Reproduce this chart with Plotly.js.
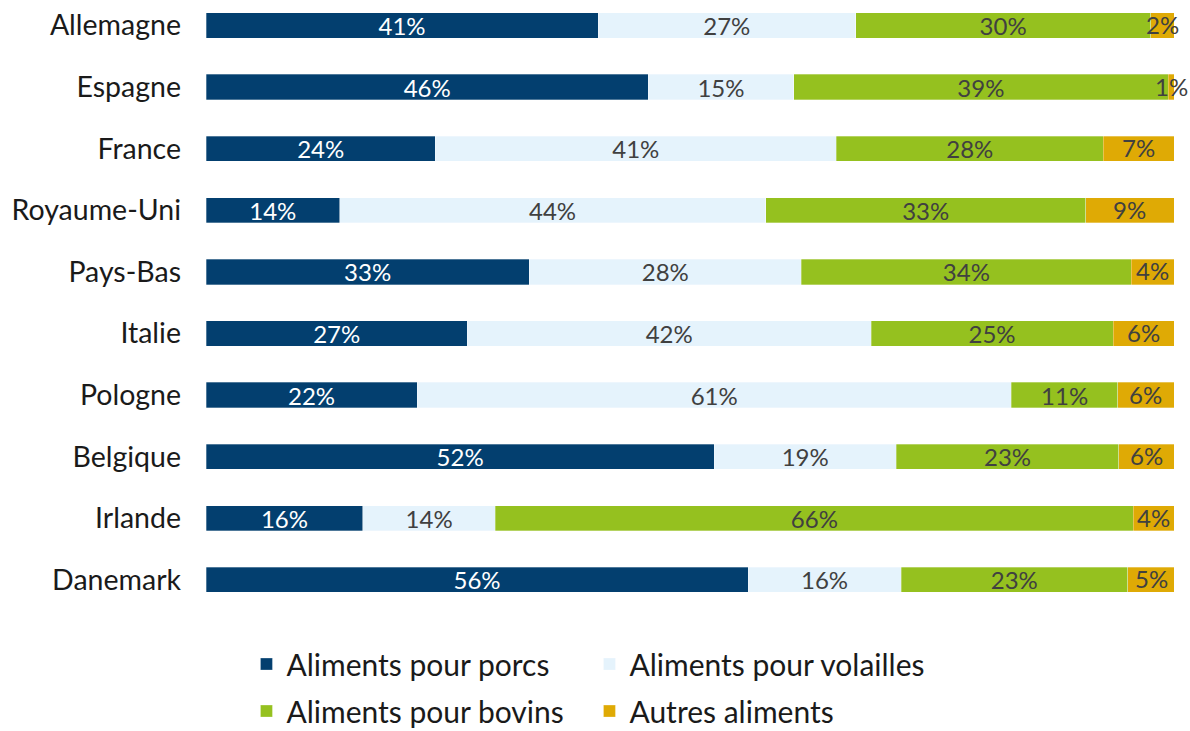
<!DOCTYPE html>
<html>
<head>
<meta charset="utf-8">
<script src="https://cdn.plot.ly/plotly-3.0.1.min.js"></script>
<style>
  html, body { margin: 0; padding: 0; background: white; }
  #chart { width: 1190px; height: 731px; }
</style>
</head>
<body>
<div id="chart"></div>
<script>
// Répartition de la production d'aliments composés par pays
const pays = ['Allemagne', 'Espagne', 'France', 'Royaume-Uni', 'Pays-Bas',
              'Italie', 'Pologne', 'Belgique', 'Irlande', 'Danemark'];

// shares (labels are the rounded published values)
const porcs     = [40.5, 45.7, 23.7, 13.8, 33.4, 27.0, 21.8, 52.5, 16.2, 56.0];
const volailles = [26.6, 15.0, 41.4, 44.0, 28.1, 41.7, 61.4, 18.8, 13.7, 15.8];
const bovins    = [30.5, 38.7, 27.6, 33.1, 34.1, 25.0, 11.0, 23.0, 65.9, 23.4];
const autres    = [ 2.5,  0.7,  7.3,  9.1,  4.4,  6.4,  5.8,  5.8,  4.2,  4.9];

const porcsLbl     = [41, 46, 24, 14, 33, 27, 22, 52, 16, 56];
const volaillesLbl = [27, 15, 41, 44, 28, 42, 61, 19, 14, 16];
const bovinsLbl    = [30, 39, 28, 33, 34, 25, 11, 23, 66, 23];
const autresLbl    = [ 2,  1,  7,  9,  4,  6,  6,  6,  4,  5];

const FONT = 'Lato, "Open Sans", sans-serif';
const LABEL_SIZE = 24;

function serie(name, values, labels, color, textColor, legendId) {
    return {
        type: 'bar',
        orientation: 'h',
        name: name,
        legend: legendId,
        y: pays,
        x: values,
        text: labels.map(v => v + '%'),
        textposition: 'inside',
        insidetextanchor: 'middle',
        textangle: 0,
        constraintext: 'none',
        textfont: { family: FONT, size: LABEL_SIZE, color: textColor },
        marker: { color: color, line: { color: 'rgba(255,255,255,0.6)', width: 0.5 } },
        width: 0.41,
        hoverinfo: 'skip'
    };
}

const autresBar = serie('Autres aliments', autres, autresLbl, '#dfaa05', '#404040', 'legend2');
autresBar.textposition = 'none';

const traces = [
    serie('Aliments pour porcs', porcs, porcsLbl, '#033f6f', '#ffffff', 'legend'),
    serie('Aliments pour volailles', volailles, volaillesLbl, '#e5f3fc', '#404040', 'legend'),
    serie('Aliments pour bovins', bovins, bovinsLbl, '#95c11f', '#404040', 'legend2'),
    autresBar
];

// the small "autres" labels overflow their segment, so they go in as annotations
const autresNotes = autres.map((v, i) => ({
    x: porcs[i] + volailles[i] + bovins[i] + v / 2,
    y: pays[i],
    xref: 'x',
    yref: 'y',
    text: autresLbl[i] + '%',
    showarrow: false,
    yshift: 1,
    font: { family: FONT, size: LABEL_SIZE, color: '#404040' }
}));

const legendBase = {
    orientation: 'h',
    x: 0.0418,
    xanchor: 'left',
    yanchor: 'middle',
    traceorder: 'normal',
    entrywidth: 298,
    entrywidthmode: 'pixels',
    itemclick: false,
    font: { family: FONT, size: 30, color: '#1a1a1a' }
};

const layout = {
    barmode: 'stack',
    width: 1190,
    height: 731,
    margin: { t: 5, r: 16, b: 121, l: 206, autoexpand: false },
    plot_bgcolor: 'white',
    paper_bgcolor: 'white',
    font: { family: FONT, color: '#1a1a1a' },
    xaxis: {
        range: [0, 100],
        visible: false,
        fixedrange: true
    },
    yaxis: {
        type: 'category',
        range: [9.49, -0.333],
        showgrid: false,
        zeroline: false,
        showline: false,
        ticks: '',
        ticklabelstandoff: 24,
        tickfont: { family: FONT, size: 28.5, color: '#1a1a1a' }
    },
    annotations: autresNotes,
    showlegend: true,
    legend: Object.assign({}, legendBase, { y: -0.0893 }),
    legend2: Object.assign({}, legendBase, { y: -0.1670 })
};

Plotly.newPlot('chart', traces, layout, { displayModeBar: false, staticPlot: true });
</script>
</body>
</html>
